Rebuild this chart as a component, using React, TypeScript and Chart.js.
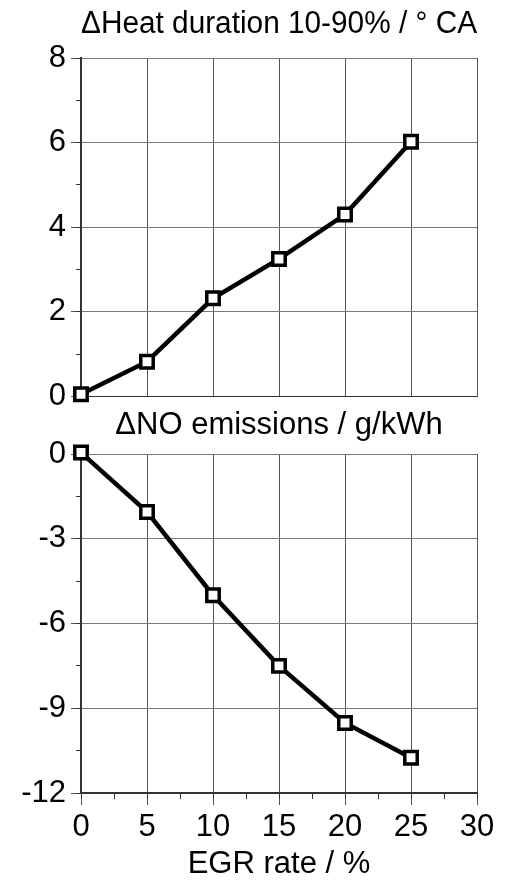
import React, { useEffect, useRef } from "react";
import { Chart, registerables } from "chart.js";

Chart.register(...registerables);

// ---- data ----
const egrRate = [0, 5, 10, 15, 20, 25];
const heatDuration = [0.05, 0.82, 2.32, 3.25, 4.3, 6.02];
const noEmissions = [0.05, -2.05, -5.0, -7.5, -9.52, -10.75];

const topTitle = "\u0394Heat duration 10-90% / \u00b0 CA";
const bottomTitle = "\u0394NO emissions / g/kWh";
const xTitle = "EGR rate / %";

const xRange = { min: 0, max: 30, step: 5, minor: 2.5 };
const topRange = { min: 0, max: 8, step: 2, minor: 1 };
const bottomRange = { min: -12, max: 0, step: 3, minor: 1.5 };

const FONT = "'Liberation Sans', Arial, Helvetica, sans-serif";
const FS = 31;

function dataset(values: number[]) {
  return {
    data: egrRate.map((x, i) => ({ x, y: values[i] })),
    borderColor: "#000",
    borderWidth: 4.5,
    pointStyle: "rect" as const,
    pointRadius: 8.8,
    pointBorderWidth: 3.5,
    pointBackgroundColor: "#fff",
    pointBorderColor: "#000",
    tension: 0,
    clip: false as const,
  };
}

function yScales(r: { min: number; max: number; step: number; minor: number }) {
  return {
    y: {
      type: "linear" as const,
      position: "left" as const,
      min: r.min,
      max: r.max,
      weight: 1,
      ticks: { stepSize: r.step, color: "#000", font: { family: FONT, size: FS }, padding: 5 },
      grid: { color: "#777", lineWidth: 1, tickLength: 10, tickColor: "#555" },
      border: { color: "#333", width: 2 },
      afterFit: (s: any) => {
        s.width = 81;
      },
    },
    yMinor: {
      type: "linear" as const,
      axis: "y" as const,
      position: "left" as const,
      min: r.min,
      max: r.max,
      weight: 0,
      ticks: { stepSize: r.minor, display: false },
      grid: { drawOnChartArea: false, tickLength: 5, color: "#333", lineWidth: 1 },
      border: { display: false },
      afterFit: (s: any) => {
        s.width = 0;
      },
    },
  };
}

function titleOpts(text: string, padTop: number, padBottom: number) {
  return {
    display: true,
    text,
    fullSize: false,
    color: "#000",
    font: { family: FONT, size: FS, weight: "normal" as const, lineHeight: 1.2 },
    padding: { top: padTop, bottom: padBottom },
  };
}

export default function App() {
  const topRef = useRef<HTMLCanvasElement>(null);
  const botRef = useRef<HTMLCanvasElement>(null);

  useEffect(() => {
    const top = new Chart(topRef.current!, {
      type: "line",
      data: { datasets: [dataset(heatDuration)] as any },
      options: {
        animation: false,
        responsive: false,
        maintainAspectRatio: false,
        layout: { padding: { left: 0, right: 38, top: 0, bottom: 0 } },
        plugins: {
          legend: { display: false },
          tooltip: { enabled: false },
          title: titleOpts(topTitle, 5.4, 15.4) as any,
        },
        scales: {
          x: {
            type: "linear",
            min: xRange.min,
            max: xRange.max,
            ticks: { stepSize: xRange.step, display: false },
            grid: { color: "#555", lineWidth: 1, drawTicks: false },
            border: { color: "#333", width: 1 },
            afterFit: (s: any) => {
              s.height = 23;
            },
          },
          ...yScales(topRange),
        } as any,
      },
    });

    const bot = new Chart(botRef.current!, {
      type: "line",
      data: { datasets: [dataset(noEmissions)] as any },
      options: {
        animation: false,
        responsive: false,
        maintainAspectRatio: false,
        layout: { padding: { left: 0, right: 38, top: 0, bottom: 0 } },
        plugins: {
          legend: { display: false },
          tooltip: { enabled: false },
          title: titleOpts(bottomTitle, 6.4, 10.4) as any,
        },
        scales: {
          x: {
            type: "linear",
            position: "bottom",
            min: xRange.min,
            max: xRange.max,
            weight: 1,
            ticks: {
              stepSize: xRange.step,
              color: "#000",
              font: { family: FONT, size: FS },
              padding: 3.4,
              maxRotation: 0,
            },
            grid: { color: "#555", lineWidth: 1, tickLength: 12, tickColor: "#555" },
            border: { color: "#333", width: 2 },
            title: {
              display: true,
              text: xTitle,
              color: "#000",
              font: { family: FONT, size: FS, lineHeight: 1 },
              padding: { top: 0, bottom: 0 },
            },
            afterFit: (s: any) => {
              s.height = 87;
            },
          },
          xMinor: {
            type: "linear",
            axis: "x",
            position: "bottom",
            min: xRange.min,
            max: xRange.max,
            weight: 0,
            ticks: { stepSize: xRange.minor, display: false },
            grid: { drawOnChartArea: false, tickLength: 6, color: "#333", lineWidth: 1 },
            border: { display: false },
            afterFit: (s: any) => {
              s.height = 0;
            },
          },
          ...yScales(bottomRange),
        } as any,
      },
    });

    return () => {
      top.destroy();
      bot.destroy();
    };
  }, []);

  return (
    <div style={{ position: "fixed", left: 0, top: 0, width: 515, height: 880, background: "#fff" }}>
      <canvas ref={topRef} width={515} height={420} style={{ position: "absolute", left: 0, top: 0 }} />
      <canvas ref={botRef} width={515} height={480} style={{ position: "absolute", left: 0, top: 400 }} />
    </div>
  );
}
